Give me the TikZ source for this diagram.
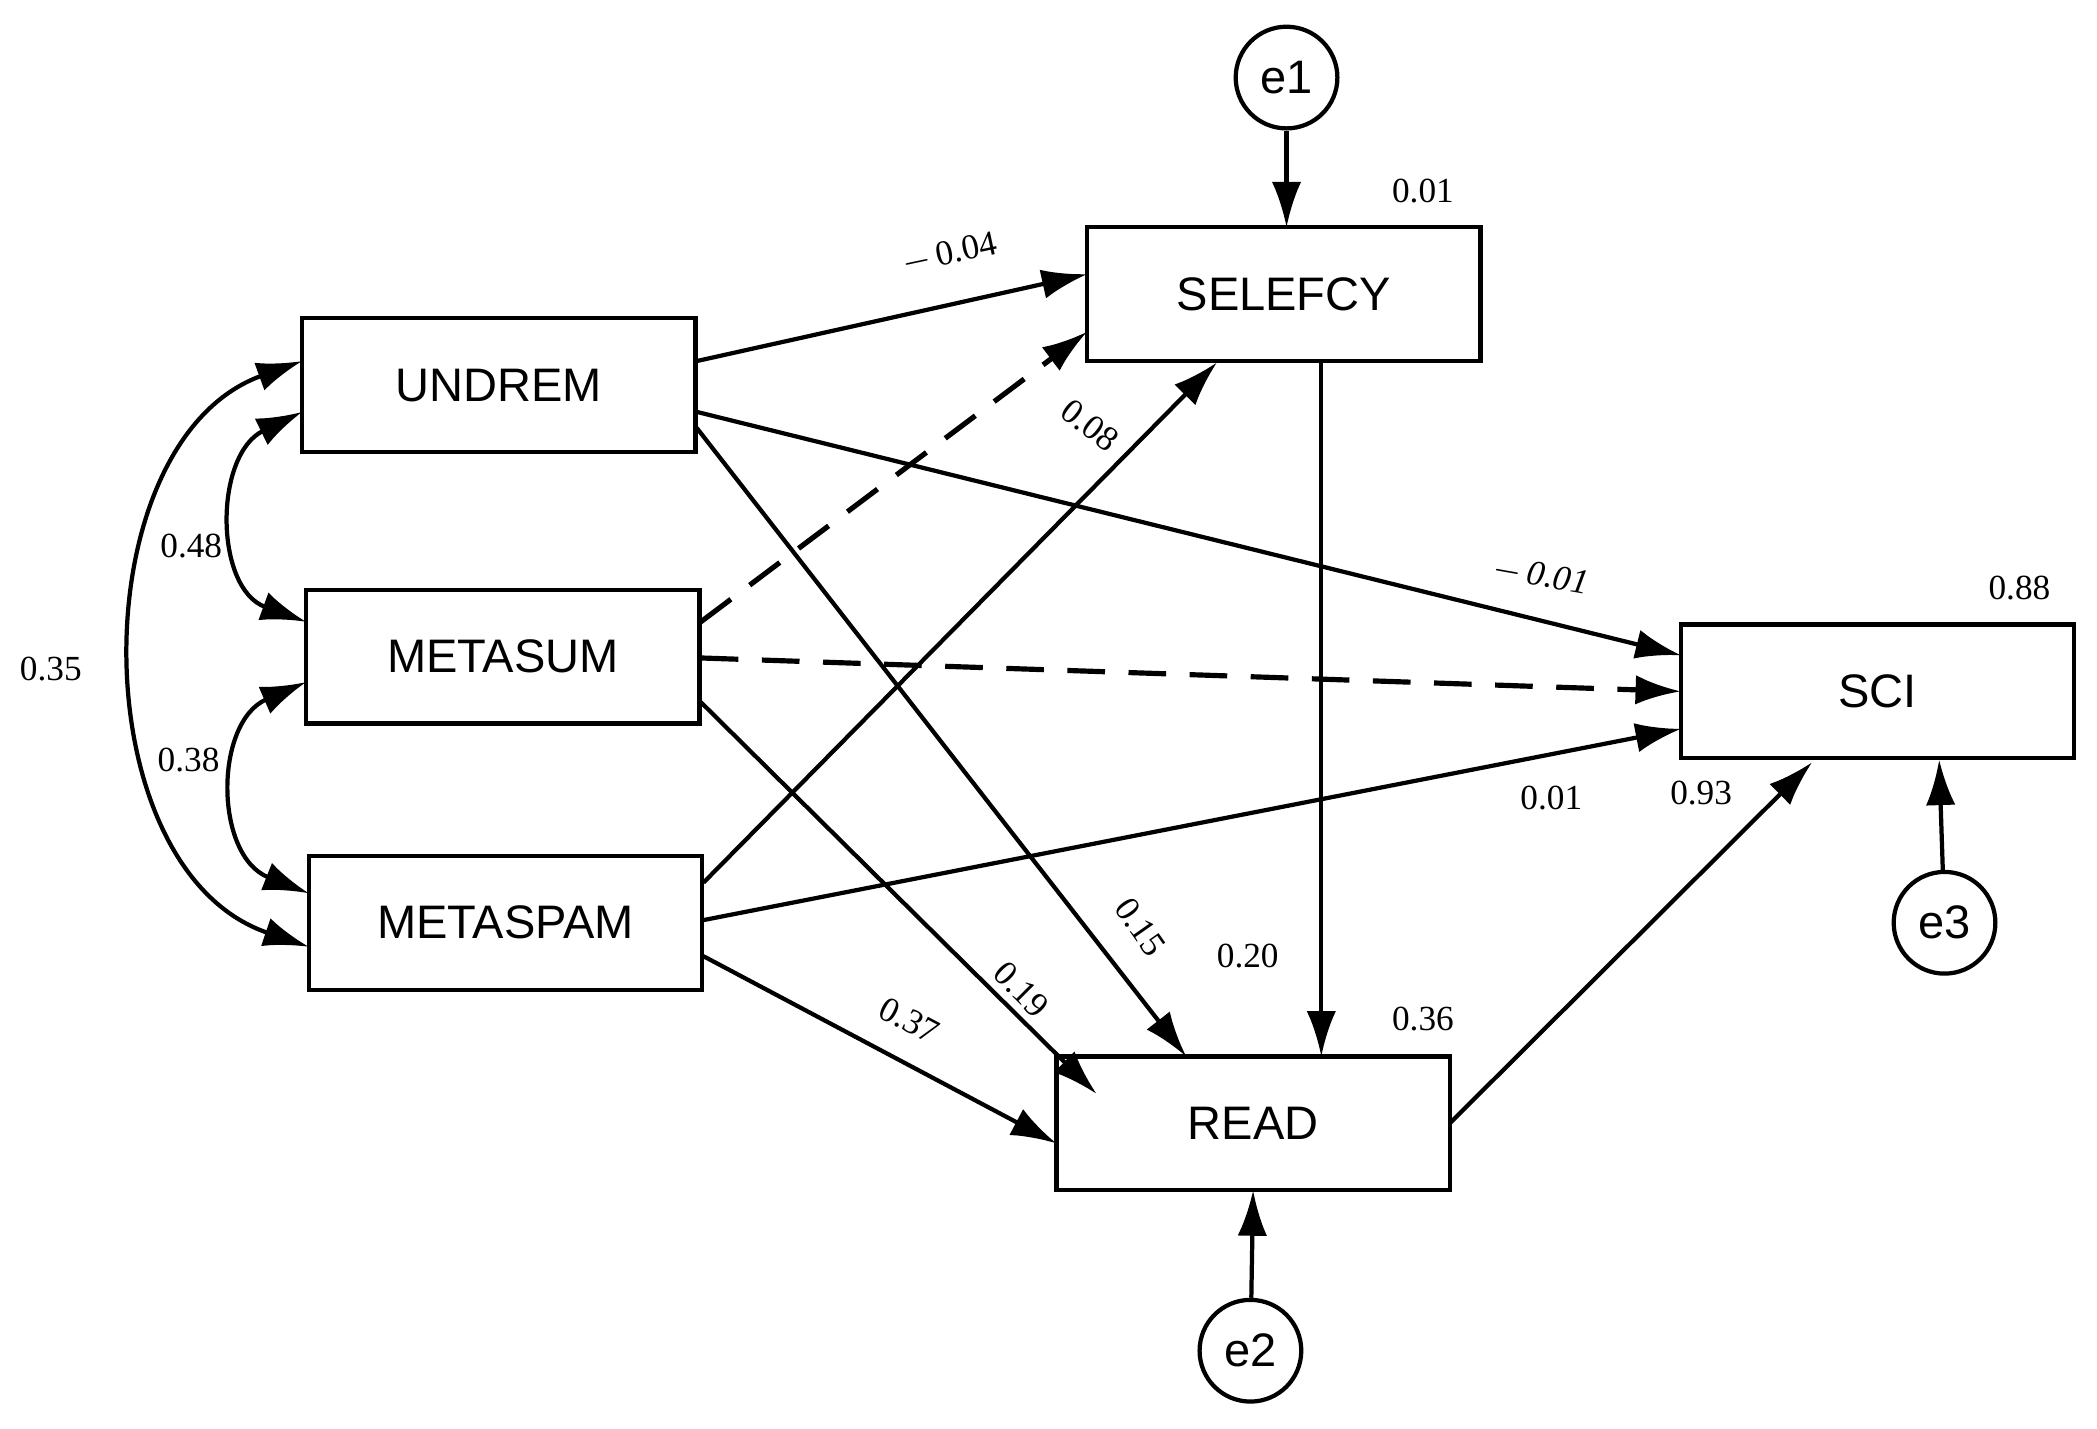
\documentclass[tikz,border=0pt]{standalone}
\usepackage{fontspec}
\setmainfont{Liberation Serif}
\newfontfamily\boxfont{Liberation Sans}
\usetikzlibrary{arrows.meta}
\begin{document}
\begin{tikzpicture}[x=0.01cm,y=-0.01cm,
  box/.style={draw,line width=0.9pt,minimum width=2.94cm,minimum height=1.0cm,font=\boxfont\fontsize{10}{12}\selectfont},
  err/.style={draw,circle,line width=0.9pt,minimum size=0.76cm,inner sep=0pt,font=\boxfont\fontsize{10}{12}\selectfont},
  arr/.style={line width=0.9pt,-{Latex[length=0.34cm,width=0.22cm]}},
  darr/.style={line width=0.9pt,{Latex[length=0.34cm,width=0.22cm]}-{Latex[length=0.34cm,width=0.22cm]}},
  dsh/.style={arr,dash pattern=on 8pt off 5pt,line width=1.1pt},
  lab/.style={font=\fontsize{7.5}{9}\selectfont,inner sep=1pt}]
\useasboundingbox (0,0) rectangle (1568,1068);
\node[box] (U) at (373,288) {UNDREM};
\node[box] (MS) at (376,491) {METASUM};
\node[box] (MP) at (378,690) {METASPAM};
\node[box] (S) at (960,220) {SELEFCY};
\node[box] (R) at (937,840) {READ};
\node[box] (C) at (1404,517) {SCI};
\node[err] (e1) at (962,58) {e1};
\node[err] (e2) at (935,1010) {e2};
\node[err] (e3) at (1454,690) {e3};
\coordinate (s1) at (813,205); \coordinate (s2) at (813,248); \coordinate (s3) at (910,271);
\draw[arr] (e1) -- (962,170);
\draw[arr] (e2) -- (937,890);
\draw[arr] (e3) -- (1450,568);
\draw[arr] (521,270) -- (s1);
\draw[dsh] (524,465) -- (s2);
\draw[arr] (526,660) -- (s3);
\draw[arr] (521,308) -- (1257,490);
\draw[dsh] (524,492) -- (1257,517);
\draw[arr] (526,688) -- (1257,545);
\draw[arr] (521,320) -- (887,790);
\draw[arr] (524,525) -- (820,818);
\draw[arr] (526,715) -- (790,855);
\draw[arr] (988,270) -- (988,790);
\draw[arr] (1084,840) -- (1355,570);
\draw[darr] (226,308) .. controls (160,340) and (160,440) .. (229,465);
\draw[darr] (229,510) .. controls (160,540) and (160,640) .. (231,668);
\draw[darr] (226,270) .. controls (60,330) and (60,650) .. (231,708);
\node[lab,rotate=12] at (710,190) {$-$\,0.04};
\node[lab,rotate=-38] at (815,318) {0.08};
\node[lab,rotate=-10] at (1152,431) {\itshape $-$\,0.01};
\node[lab] at (1160,597) {0.01};
\node[lab,rotate=-55] at (853,693) {0.15};
\node[lab,rotate=-45] at (764,740) {0.19};
\node[lab,rotate=-28] at (680,763) {0.37};
\node[lab] at (933,715) {0.20};
\node[lab] at (1272,593) {0.93};
\node[lab] at (1064,143) {0.01};
\node[lab] at (1510,440) {0.88};
\node[lab] at (1064,762) {0.36};
\node[lab] at (143,408) {0.48};
\node[lab] at (141,568) {0.38};
\node[lab] at (38,500) {0.35};
\end{tikzpicture}
\end{document}
